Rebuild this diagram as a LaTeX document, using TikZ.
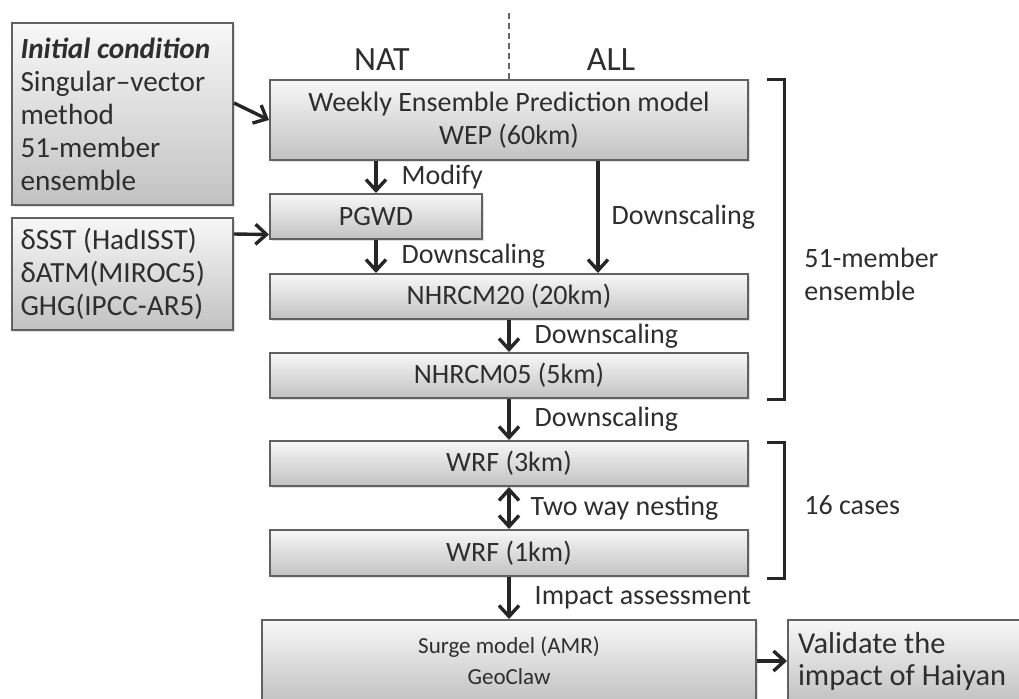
\documentclass[tikz,border=0pt]{standalone}
\usepackage{fontspec}
\setmainfont{Carlito}
\usetikzlibrary{arrows.meta,shadows}

\begin{document}
\begin{tikzpicture}[x=0.5pt,y=-0.5pt,
   every node/.style={text=black!82},
   box/.style={draw=black!62,line width=1pt,top color=black!3,bottom color=black!24,
      drop shadow={opacity=0.25,shadow xshift=1.2pt,shadow yshift=-1.2pt},
      inner sep=0pt,align=center,font=\fontsize{14}{16.5}\selectfont},
   leftbox/.style={box,text width=102pt,align=flush left,font=\fontsize{14.6}{16.5}\selectfont},
   arr/.style={-{Straight Barb[length=5.5pt,width=10pt]},line width=1.7pt,black!85},
   lbl/.style={right,inner sep=0pt,xshift=12pt,font=\fontsize{14}{16.5}\selectfont},
   bracket/.style={line width=1.5pt,black!85}]
\useasboundingbox (0,0) rectangle (1019,698);
\clip (0,0) rectangle (1019,698);

\node[leftbox,minimum width=110.5pt,minimum height=91pt] (init) at (122.5,114)
   {\textbf{\textit{Initial condition}}\\Singular--vector\\method\\51-member\\ensemble};
\node[leftbox,minimum width=110.5pt,minimum height=56pt] (forcing) at (122.5,274)
   {δSST (HadISST)\\δATM(MIROC5)\\GHG(IPCC-AR5)};
\node[box,minimum width=239pt,minimum height=40pt] (wep) at (509,120)
   {Weekly Ensemble Prediction model\\WEP (60km)};
\node[box,minimum width=106pt,minimum height=22.5pt] (pgwd) at (376,216.5) {PGWD};
\node[box,minimum width=239pt,minimum height=22.5pt] (nh20) at (509,296.5) {NHRCM20 (20km)};
\node[box,minimum width=239pt,minimum height=22.5pt] (nh05) at (509,375.5) {NHRCM05 (5km)};
\node[box,minimum width=239pt,minimum height=22.5pt] (wrf3) at (509,463.5) {WRF (3km)};
\node[box,minimum width=239pt,minimum height=23pt] (wrf1) at (509,553) {WRF (1km)};
\node[box,minimum width=247pt,minimum height=41pt,font=\fontsize{11.5}{15.5}\selectfont] (surge) at (509,661)
   {Surge model (AMR)\\GeoClaw};
\node[box,minimum width=117pt,minimum height=41pt,text width=107pt,align=flush left,
   font=\fontsize{15.2}{16}\selectfont] (valid) at (905,661)
   {Validate the\\impact of Haiyan};

\node[font=\fontsize{17}{20}\selectfont] (nat) at (382,60) {NAT};
\node[font=\fontsize{17}{20}\selectfont] (all) at (611,60) {ALL};
\coordinate (divtop) at (509,13);
\draw[densely dashed,line width=0.8pt,black!60] (divtop) -- (wep.north);

\draw[arr] ([yshift=5.5pt]init.east) -- (wep.west);
\draw[arr] ([yshift=-8.5pt]forcing.north east) -- ([yshift=-9pt]pgwd.west);
\draw[arr] (pgwd.north |- wep.south) -- (pgwd.north) node[lbl,midway] {Modify};
\draw[arr] ([xshift=44.5pt]wep.south) -- ([xshift=44.5pt]nh20.north) node[lbl,midway,xshift=-6pt] {Downscaling};
\draw[arr] (pgwd.south) -- (pgwd.south |- nh20.north) node[lbl,midway] {Downscaling};
\draw[arr] (nh20) -- (nh05) node[lbl,midway] {Downscaling};
\draw[arr] (nh05) -- (wrf3) node[lbl,midway] {Downscaling};
\draw[arr,{Straight Barb[length=5.5pt,width=10pt]}-{Straight Barb[length=5.5pt,width=10pt]}] (wrf3) -- (wrf1)
   node[lbl,midway,xshift=-2pt] {Two way nesting};
\draw[arr] (wrf1) -- (surge) node[lbl,midway] {Impact assessment};
\draw[arr] (surge) -- (valid);

\draw[bracket] ([xshift=9pt]wep.north east) -- ++(8.5pt,0) |- ([xshift=9pt]nh05.south east);
\draw[bracket] ([xshift=9pt,yshift=-1pt]wrf3.north east) -- ++(8.5pt,0) |- ([xshift=9pt,yshift=-0.5pt]wrf1.south east);
\node[anchor=west,align=flush left,inner sep=0pt,font=\fontsize{14}{16.5}\selectfont] (ens) at (804,274)
   {51-member\\ensemble};
\node[anchor=west,inner sep=0pt,font=\fontsize{14}{16.5}\selectfont] (cases) at (804,505) {16 cases};
\end{tikzpicture}
\end{document}
